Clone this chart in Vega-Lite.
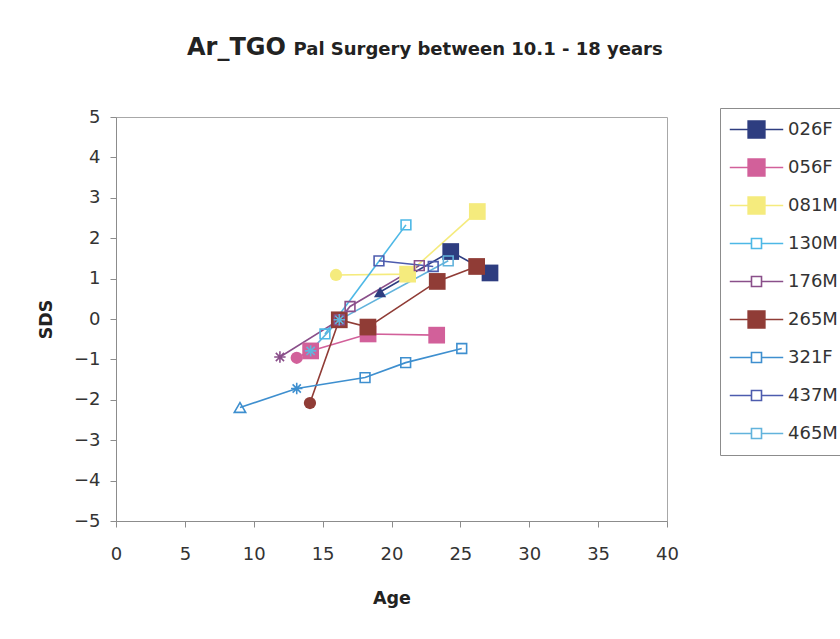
{
  "$schema": "https://vega.github.io/schema/vega-lite/v6.json",
  "autosize": {"type": "none"},
  "width": 551,
  "height": 404,
  "padding": {"left": 116, "top": 117, "right": 173, "bottom": 118},
  "background": "white",
  "title": {
    "text": "Ar_TGO",
    "subtitle": "\u200b\u00a0\u00a0\u00a0\u00a0\u00a0\u00a0\u00a0\u00a0\u00a0\u00a0\u00a0\u00a0\u00a0\u00a0\u00a0\u00a0\u00a0Pal Surgery between 10.1 - 18 years",
    "anchor": "start",
    "frame": "group",
    "dx": 71,
    "offset": 48,
    "font": "DejaVu Sans",
    "fontSize": 24,
    "fontWeight": "bold",
    "color": "#222222",
    "subtitleFont": "DejaVu Sans",
    "subtitleFontSize": 18,
    "subtitleFontWeight": "bold",
    "subtitleColor": "#222222",
    "subtitlePadding": -19
  },
  "data": {
    "values": [
      {"id": "026F", "Age": 19.17, "SDS": 0.67},
      {"id": "026F", "Age": 24.3, "SDS": 1.67},
      {"id": "026F", "Age": 27.15, "SDS": 1.14},
      {"id": "056F", "Age": 13.12, "SDS": -0.96},
      {"id": "056F", "Age": 14.13, "SDS": -0.79},
      {"id": "056F", "Age": 18.3, "SDS": -0.37},
      {"id": "056F", "Age": 23.28, "SDS": -0.4},
      {"id": "081M", "Age": 15.97, "SDS": 1.09},
      {"id": "081M", "Age": 21.17, "SDS": 1.11},
      {"id": "081M", "Age": 26.23, "SDS": 2.66},
      {"id": "130M", "Age": 15.17, "SDS": -0.37},
      {"id": "130M", "Age": 21.05, "SDS": 2.33},
      {"id": "176M", "Age": 11.9, "SDS": -0.94},
      {"id": "176M", "Age": 16.21, "SDS": -0.02},
      {"id": "176M", "Age": 16.99, "SDS": 0.31},
      {"id": "176M", "Age": 22.02, "SDS": 1.32},
      {"id": "265M", "Age": 14.08, "SDS": -2.08},
      {"id": "265M", "Age": 16.21, "SDS": -0.02},
      {"id": "265M", "Age": 18.29, "SDS": -0.2},
      {"id": "265M", "Age": 23.32, "SDS": 0.93},
      {"id": "265M", "Age": 26.18, "SDS": 1.3},
      {"id": "321F", "Age": 9.0, "SDS": -2.19},
      {"id": "321F", "Age": 13.12, "SDS": -1.72},
      {"id": "321F", "Age": 18.08, "SDS": -1.45},
      {"id": "321F", "Age": 21.03, "SDS": -1.08},
      {"id": "321F", "Age": 25.1, "SDS": -0.73},
      {"id": "437M", "Age": 19.09, "SDS": 1.44},
      {"id": "437M", "Age": 23.03, "SDS": 1.3},
      {"id": "465M", "Age": 14.13, "SDS": -0.79},
      {"id": "465M", "Age": 16.21, "SDS": -0.02},
      {"id": "465M", "Age": 24.12, "SDS": 1.44}
    ]
  },
  "transform": [
    {"window": [{"op": "row_number", "as": "rank"}], "groupby": ["id"], "sort": [{"field": "Age", "order": "ascending"}]}
  ],
  "encoding": {
    "x": {
      "field": "Age", "type": "quantitative",
      "scale": {"domain": [0, 40], "nice": false, "zero": false},
      "axis": {"values": [0, 5, 10, 15, 20, 25, 30, 35, 40], "title": "Age", "grid": false, "labelPadding": 18, "titlePadding": 26, "labelFlush": false}
    },
    "y": {
      "field": "SDS", "type": "quantitative",
      "scale": {"domain": [-5, 5], "nice": false, "zero": false},
      "axis": {"values": [-5, -4, -3, -2, -1, 0, 1, 2, 3, 4, 5], "title": "SDS", "grid": false, "labelPadding": 10, "titlePadding": 18, "labelFlush": false}
    }
  },
  "resolve": {"legend": {"fill": "independent", "stroke": "independent", "shape": "independent"}},
  "layer": [
    {
      "mark": {"type": "line", "strokeWidth": 1.6},
      "encoding": {
        "stroke": {"field": "id", "type": "nominal", "legend": null,
          "scale": {"domain": ["026F", "056F", "081M", "130M", "176M", "265M", "321F", "437M", "465M"],
            "range": ["#2E3D80", "#D2609A", "#F5EB7D", "#4DB8E6", "#8A4F8A", "#903C36", "#3E8FCF", "#4D5CAE", "#62B3DC"]}},
        "detail": {"field": "id"},
        "order": {"field": "Age"}
      }
    },
    {
      "transform": [{"filter": "indexof(['026F','056F','081M','265M'], datum.id) >= 0 && datum.rank > 1"}],
      "mark": {"type": "point", "shape": "square", "filled": true, "size": 280, "opacity": 1},
      "encoding": {
        "fill": {"field": "id", "type": "nominal", "legend": null}
      }
    },
    {
      "transform": [{"filter": "indexof(['026F','056F','081M','265M'], datum.id) < 0 && !(datum.id == '321F' && datum.rank <= 2) && !(datum.id == '465M' && datum.rank <= 2) && !(datum.id == '176M' && datum.rank == 1)"}],
      "mark": {"type": "point", "shape": "square", "filled": false, "size": 95, "strokeWidth": 1.6, "opacity": 1},
      "encoding": {
        "stroke": {"field": "id", "type": "nominal", "legend": null}
      }
    },
    {
      "transform": [{"filter": "indexof(['026F','056F','081M','265M'], datum.id) >= 0 && datum.rank == 1"}],
      "mark": {"type": "point", "filled": true, "size": 150, "opacity": 1},
      "encoding": {
        "fill": {"field": "id", "type": "nominal", "legend": null},
        "shape": {"condition": {"test": "datum.id == '026F'", "value": "triangle-up"}, "value": "circle"}
      }
    },
    {
      "transform": [{"filter": "(datum.id == '321F' && datum.rank <= 2) || (datum.id == '465M' && datum.rank <= 2) || (datum.id == '176M' && datum.rank == 1)"}],
      "mark": {"type": "point", "filled": false, "size": 130, "strokeWidth": 1.6, "opacity": 1},
      "encoding": {
        "stroke": {"field": "id", "type": "nominal", "legend": null},
        "shape": {"condition": {"test": "datum.id == '321F' && datum.rank == 1", "value": "triangle-up"}, "value": "M-1,0H1M0,-1V1M-0.72,-0.72L0.72,0.72M-0.72,0.72L0.72,-0.72"}
      }
    },
    {
      "mark": {"type": "point", "filled": true, "opacity": 0, "size": 280},
      "encoding": {
        "fill": {"field": "id", "type": "nominal",
          "scale": {"domain": ["026F", "056F", "081M", "130M", "176M", "265M", "321F", "437M", "465M"],
            "range": ["#2E3D80", "#D2609A", "#F5EB7D", "white", "white", "#903C36", "white", "white", "white"]}},
        "stroke": {"field": "id", "type": "nominal"},
        "shape": {"field": "id", "type": "nominal",
          "scale": {"domain": ["026F", "056F", "081M", "130M", "176M", "265M", "321F", "437M", "465M"],
            "range": [
              "M-3.2,0H-1M1,0H3.2M-1,-1H1V1H-1Z",
              "M-3.2,0H-1M1,0H3.2M-1,-1H1V1H-1Z",
              "M-3.2,0H-1M1,0H3.2M-1,-1H1V1H-1Z",
              "M-3.2,0H-0.6M0.6,0H3.2M-0.6,-0.6H0.6V0.6H-0.6Z",
              "M-3.2,0H-0.6M0.6,0H3.2M-0.6,-0.6H0.6V0.6H-0.6Z",
              "M-3.2,0H-1M1,0H3.2M-1,-1H1V1H-1Z",
              "M-3.2,0H-0.6M0.6,0H3.2M-0.6,-0.6H0.6V0.6H-0.6Z",
              "M-3.2,0H-0.6M0.6,0H3.2M-0.6,-0.6H0.6V0.6H-0.6Z",
              "M-3.2,0H-0.6M0.6,0H3.2M-0.6,-0.6H0.6V0.6H-0.6Z"
            ]}}
      }
    }
  ],
  "config": {
    "view": {"stroke": "#a8a8a8", "strokeWidth": 1},
    "axis": {
      "labelFont": "DejaVu Sans", "labelFontSize": 18, "labelColor": "#333333",
      "titleFont": "DejaVu Sans", "titleFontSize": 17.5, "titleFontWeight": "bold", "titleColor": "#222222",
      "domainColor": "#8c8c8c", "tickColor": "#8c8c8c", "tickSize": 6, "domainWidth": 1
    },
    "legend": {
      "orient": "none", "legendX": 604, "legendY": -9,
      "title": null, "padding": 12, "strokeColor": "#8c8c8c", "fillColor": "white",
      "labelFont": "DejaVu Sans", "labelFontSize": 18, "labelColor": "#333333",
      "symbolSize": 279, "symbolStrokeWidth": 1.6, "symbolOffset": 15, "labelOffset": 22,
      "symbolFillColor": "white",
      "gridAlign": "all",
      "rowPadding": 13
    }
  }
}
